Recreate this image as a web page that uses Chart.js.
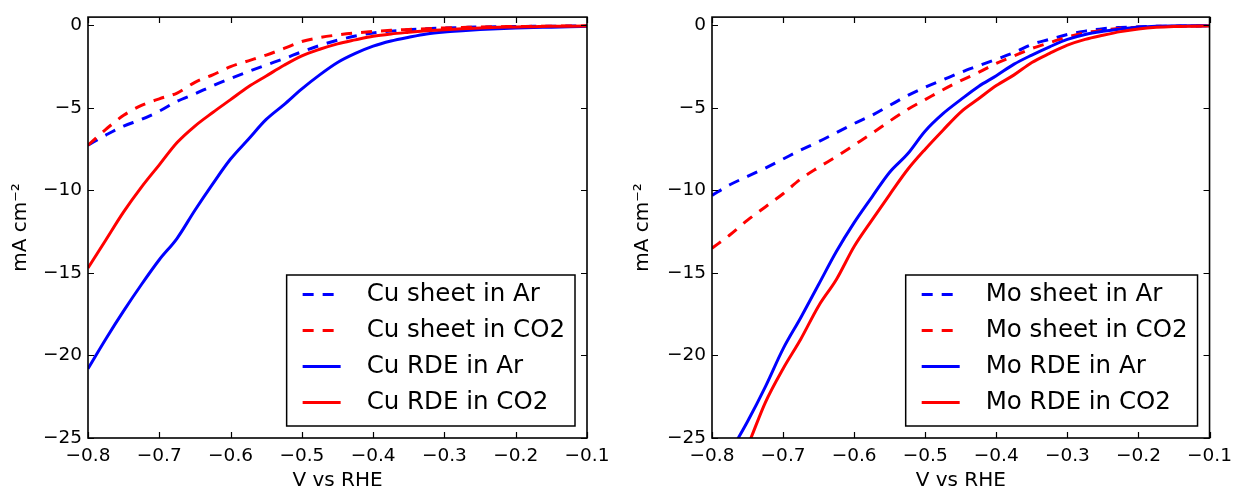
<!DOCTYPE html>
<html>
<head>
<meta charset="utf-8">
<title>Polarisation curves</title>
<script src="https://cdn.jsdelivr.net/npm/chart.js@4.4.1/dist/chart.umd.min.js"></script>
<style>
  html, body { margin: 0; padding: 0; background: #fff; }
  #wrap { position: relative; width: 1239px; height: 493px; }
  canvas { position: absolute; top: 0; }
  #cu { left: 0; }
  #mo { left: 620px; }
</style>
</head>
<body>
<div id="wrap">
  <canvas id="cu" width="620" height="493"></canvas>
  <canvas id="mo" width="619" height="493"></canvas>
</div>
<script>
// potential sweep, V vs RHE
const voltage = [-0.8, -0.775, -0.75, -0.725, -0.7, -0.675, -0.65, -0.625, -0.6, -0.575,
                 -0.55, -0.525, -0.5, -0.475, -0.45, -0.425, -0.4, -0.375, -0.35, -0.325,
                 -0.3, -0.275, -0.25, -0.225, -0.2, -0.175, -0.15, -0.125, -0.1];

// current density, mA cm-2
const cuSheetAr  = [-7.26, -6.65, -6.1, -5.7, -5.2, -4.6, -4.15, -3.66, -3.22, -2.8,
                    -2.4, -2.02, -1.6, -1.22, -0.9, -0.65, -0.46, -0.35, -0.27, -0.2,
                    -0.16, -0.13, -0.1, -0.08, -0.07, -0.06, -0.05, -0.04, -0.03];
const cuSheetCO2 = [-7.26, -6.3, -5.45, -4.85, -4.45, -4.1, -3.45, -3.0, -2.5, -2.15,
                    -1.8, -1.4, -0.98, -0.74, -0.58, -0.46, -0.37, -0.3, -0.25, -0.2,
                    -0.16, -0.13, -0.1, -0.08, -0.07, -0.06, -0.05, -0.04, -0.03];
const cuRdeAr    = [-20.8, -19.0, -17.3, -15.7, -14.2, -12.9, -11.2, -9.6, -8.1, -6.9,
                    -5.7, -4.8, -3.85, -3.0, -2.25, -1.7, -1.26, -0.95, -0.72, -0.52,
                    -0.4, -0.32, -0.25, -0.2, -0.16, -0.13, -0.11, -0.08, -0.06];
const cuRdeCO2   = [-14.7, -13.0, -11.3, -9.8, -8.45, -7.1, -6.1, -5.28, -4.5, -3.72,
                    -3.07, -2.42, -1.85, -1.45, -1.12, -0.88, -0.66, -0.52, -0.42, -0.33,
                    -0.26, -0.2, -0.16, -0.12, -0.1, -0.08, -0.06, -0.05, -0.04];

const moSheetAr  = [-10.3, -9.66, -9.15, -8.65, -8.1, -7.55, -7.05, -6.5, -5.95, -5.45,
                    -4.85, -4.26, -3.75, -3.3, -2.85, -2.45, -2.05, -1.65, -1.15, -0.85,
                    -0.55, -0.35, -0.2, -0.13, -0.09, -0.06, -0.05, -0.04, -0.03];
const moSheetCO2 = [-13.5, -12.7, -11.8, -11.0, -10.2, -9.3, -8.6, -7.95, -7.25, -6.55,
                    -5.8, -5.1, -4.5, -3.9, -3.35, -2.85, -2.3, -1.85, -1.4, -1.05,
                    -0.7, -0.45, -0.3, -0.18, -0.12, -0.07, -0.05, -0.04, -0.03];
const moRdeAr    = [-27.8, -25.9, -24.0, -21.9, -19.6, -17.7, -15.7, -13.7, -11.95, -10.4,
                    -8.9, -7.8, -6.4, -5.35, -4.5, -3.7, -3.05, -2.35, -1.8, -1.3,
                    -0.85, -0.55, -0.36, -0.22, -0.12, -0.06, -0.04, -0.03, -0.03];
const moRdeCO2   = [-29.5, -27.8, -25.5, -22.85, -20.8, -19.0, -17.0, -15.4, -13.4, -11.8,
                    -10.25, -8.75, -7.5, -6.35, -5.25, -4.45, -3.65, -3.0, -2.25, -1.7,
                    -1.2, -0.85, -0.6, -0.38, -0.22, -0.12, -0.07, -0.05, -0.04];

const xTicks = [-0.8, -0.7, -0.6, -0.5, -0.4, -0.3, -0.2, -0.1];
const yTicks = [-25, -20, -15, -10, -5, 0];

const BLUE = '#0000ff', RED = '#ff0000';
const DASH = [11, 9];

Chart.defaults.font.family = "'DejaVu Sans', sans-serif";
Chart.defaults.color = '#000';

function minus(v, digits) {
  const s = Math.abs(v).toFixed(digits);
  return v < 0 ? '\u2212' + s : s;
}

// black box round the plot with inward ticks on all four sides
const frame = {
  id: 'frame',
  afterDatasetsDraw(chart) {
    const {ctx, chartArea: a, scales: {x, y}} = chart;
    const len = 6;
    ctx.save();
    ctx.strokeStyle = '#000';
    ctx.lineWidth = 1.2;
    ctx.beginPath();
    xTicks.forEach(v => {
      const px = Math.round(x.getPixelForValue(v)) + 0.5;
      ctx.moveTo(px, a.bottom); ctx.lineTo(px, a.bottom - len);
      ctx.moveTo(px, a.top); ctx.lineTo(px, a.top + len);
    });
    yTicks.forEach(v => {
      const py = Math.round(y.getPixelForValue(v)) + 0.5;
      ctx.moveTo(a.left, py); ctx.lineTo(a.left + len, py);
      ctx.moveTo(a.right, py); ctx.lineTo(a.right - len, py);
    });
    ctx.stroke();
    ctx.lineWidth = 1.6;
    ctx.strokeRect(a.left, a.top, a.right - a.left, a.bottom - a.top);
    ctx.restore();
  }
};

// framed legend in the lower right corner
const boxLegend = {
  id: 'boxLegend',
  afterDraw(chart) {
    const {ctx, chartArea: a} = chart;
    const sets = chart.data.datasets;
    ctx.save();
    ctx.font = "24.5px 'DejaVu Sans'";
    const textW = Math.max(...sets.map(d => ctx.measureText(d.label).width));
    const w = 80 + textW + 10, h = 151;
    const x0 = a.right - 12 - w, y0 = a.bottom - 12 - h;
    ctx.fillStyle = '#fff';
    ctx.fillRect(x0, y0, w, h);
    ctx.strokeStyle = '#000';
    ctx.lineWidth = 1.5;
    ctx.strokeRect(x0, y0, w, h);
    sets.forEach((d, i) => {
      const yy = y0 + 19.5 + i * 36;
      ctx.beginPath();
      ctx.setLineDash(d.borderDash || []);
      ctx.lineWidth = d.borderWidth;
      ctx.strokeStyle = d.borderColor;
      ctx.moveTo(x0 + 16, yy);
      ctx.lineTo(x0 + 54, yy);
      ctx.stroke();
      ctx.setLineDash([]);
      ctx.fillStyle = '#000';
      ctx.textBaseline = 'middle';
      ctx.fillText(d.label, x0 + 80, yy);
    });
    ctx.restore();
  }
};

function series(label, values, color, dashed, i) {
  return {
    label: label,
    data: voltage.map((v, k) => ({x: v, y: values[k]})),
    borderColor: color,
    borderWidth: 3,
    borderDash: dashed ? DASH : [],
    pointRadius: 0,
    cubicInterpolationMode: 'monotone',
    fill: false,
    order: 3 - i
  };
}

function panel(id, metal, curves, axisWidth, padRight, titlePad) {
  const datasets = [
    series(metal + ' sheet in Ar', curves[0], BLUE, true, 0),
    series(metal + ' sheet in CO2', curves[1], RED, true, 1),
    series(metal + ' RDE in Ar', curves[2], BLUE, false, 2),
    series(metal + ' RDE in CO2', curves[3], RED, false, 3)
  ];
  return new Chart(document.getElementById(id), {
    type: 'line',
    data: { datasets: datasets },
    options: {
      responsive: false,
      animation: false,
      events: [],
      layout: { padding: { top: 14, right: padRight, left: 0, bottom: 0 } },
      plugins: { legend: { display: false }, tooltip: { enabled: false } },
      scales: {
        x: {
          type: 'linear',
          min: -0.8,
          max: -0.1,
          afterBuildTicks: s => { s.ticks = xTicks.map(v => ({value: v})); },
          afterFit: s => { s.height = 55; },
          grid: { display: false, drawTicks: false },
          border: { display: false },
          ticks: { padding: 7, font: { size: 18.5 }, callback: v => minus(v, 1) },
          title: { display: true, text: 'V vs RHE', font: { size: 20 }, padding: { top: 0, bottom: 0 } }
        },
        y: {
          type: 'linear',
          min: -25,
          max: 0.5,
          afterBuildTicks: s => { s.ticks = yTicks.map(v => ({value: v})); },
          afterFit: s => { s.width = axisWidth; },
          grid: { display: false, drawTicks: false },
          border: { display: false },
          ticks: { padding: 6, font: { size: 18.5 }, callback: v => minus(v, 0) },
          title: { display: true, text: 'mA cm\u207B\u00B2', font: { size: 20 }, padding: { top: titlePad, bottom: 0 } }
        }
      }
    },
    plugins: [frame, boxLegend]
  });
}

panel('cu', 'Cu', [cuSheetAr, cuSheetCO2, cuRdeAr, cuRdeCO2], 88, 33, 9);
panel('mo', 'Mo', [moSheetAr, moSheetCO2, moRdeAr, moRdeCO2], 92, 28, 11);
</script>
</body>
</html>
